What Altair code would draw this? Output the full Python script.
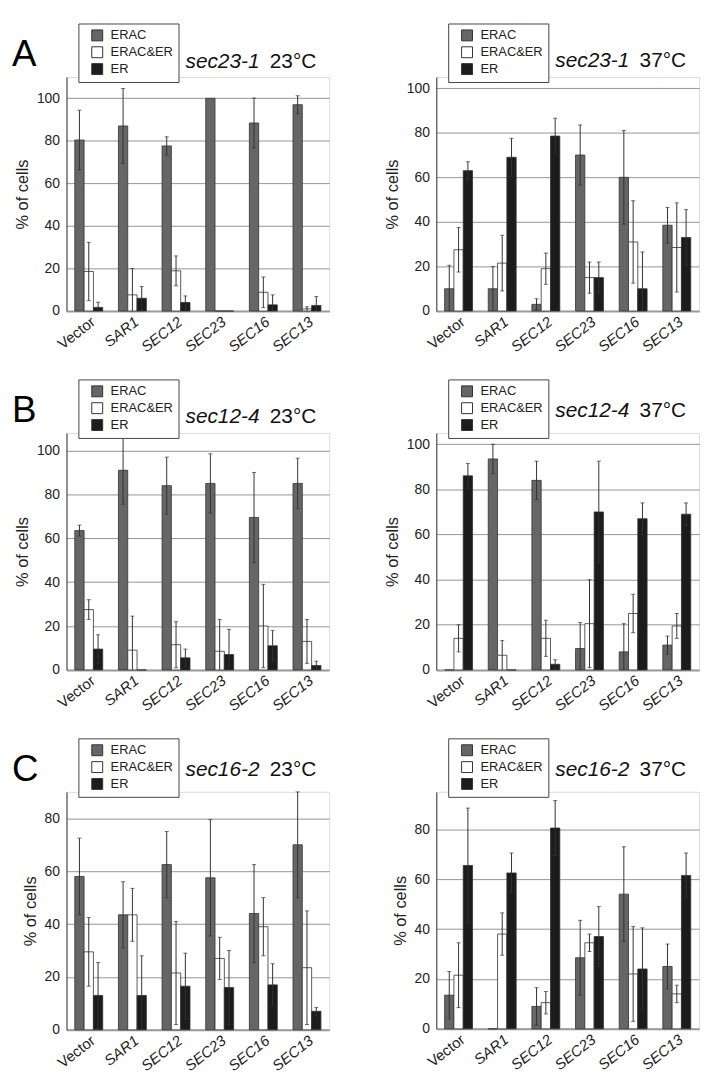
import altair as alt
import pandas as pd

genes = ["Vector", "SAR1", "SEC12", "SEC23", "SEC16", "SEC13"]
classes = ["ERAC", "ERAC&ER", "ER"]
class_colors = ["#666666", "#ffffff", "#1c1c1c"]

# A: sec23-1 23°C
a23_erac = [80.4, 87, 77.6, 100, 88.4, 97]
a23_erac_sd = [14, 17.6, 4.3, 0, 11.7, 4.2]
a23_both = [18.6, 7.6, 18.9, 0, 8.8, 1]
a23_both_sd = [13.7, 12.4, 7, 0, 7.2, 1]
a23_er = [1.7, 6, 4, 0, 2.9, 2.6]
a23_er_sd = [2.4, 5.5, 3.1, 0, 4.7, 4.2]
# A: sec23-1 37°C
a37_erac = [10, 10, 3, 70, 60, 38.5]
a37_erac_sd = [10.5, 10, 2.5, 13.5, 21, 8]
a37_both = [27.5, 21.5, 19, 15, 31, 28.5]
a37_both_sd = [10, 12.5, 7, 7, 18.5, 20]
a37_er = [63, 69, 78.5, 15, 10, 33]
a37_er_sd = [4, 8.5, 8, 7, 16.5, 12.5]
# B: sec12-4 23°C
b23_erac = [63.5, 91, 84, 85, 69.5, 85]
b23_erac_sd = [2.5, 15.5, 13, 13.5, 20.5, 11.5]
b23_both = [27.5, 9, 11.5, 8.5, 20, 13]
b23_both_sd = [4.5, 15.5, 10.5, 14.5, 19, 10]
b23_er = [9.5, 0, 5.5, 7, 11, 2]
b23_er_sd = [6.5, 0, 4, 11.5, 7, 2]
# B: sec12-4 37°C
b37_erac = [0, 93.5, 84, 9.5, 8, 11]
b37_erac_sd = [0, 6.5, 8.5, 11.5, 12.5, 4]
b37_both = [14, 6.5, 14, 20.5, 25, 19.5]
b37_both_sd = [6, 6.5, 8, 19.5, 8.5, 5.5]
b37_er = [86, 0, 2.5, 70, 67, 69]
b37_er_sd = [5.5, 0, 2, 22.5, 7, 5]
# C: sec16-2 23°C
c23_erac = [58, 43.5, 62.5, 57.5, 44, 70]
c23_erac_sd = [14.5, 12.5, 12.5, 22, 18.5, 20]
c23_both = [29.5, 43.5, 21.5, 27, 39, 23.5]
c23_both_sd = [13, 10, 19.5, 8, 11, 21.5]
c23_er = [13, 13, 16.5, 16, 17, 7]
c23_er_sd = [12.5, 15, 12.5, 14, 8, 1.5]
# C: sec16-2 37°C
c37_erac = [13.5, 0, 9, 28.5, 54, 25]
c37_erac_sd = [9.5, 0, 7.5, 15, 19, 9]
c37_both = [21.5, 38, 10.5, 34.5, 22, 14]
c37_both_sd = [13, 8.5, 4.5, 3.5, 19, 3.5]
c37_er = [65.5, 62.5, 80.5, 37, 24, 61.5]
c37_er_sd = [23, 8, 11, 12, 16.5, 9]

panels = [
    dict(letter="A", strain="sec23-1", temp="23°C", ymax=110, h=236, tdy=-9,
         data=[(a23_erac, a23_erac_sd), (a23_both, a23_both_sd), (a23_er, a23_er_sd)]),
    dict(letter="", strain="sec23-1", temp="37°C", ymax=105, h=236, tdy=-10,
         data=[(a37_erac, a37_erac_sd), (a37_both, a37_both_sd), (a37_er, a37_er_sd)]),
    dict(letter="B", strain="sec12-4", temp="23°C", ymax=108, h=239, tdy=-10,
         data=[(b23_erac, b23_erac_sd), (b23_both, b23_both_sd), (b23_er, b23_er_sd)]),
    dict(letter="", strain="sec12-4", temp="37°C", ymax=105, h=239, tdy=-16,
         data=[(b37_erac, b37_erac_sd), (b37_both, b37_both_sd), (b37_er, b37_er_sd)]),
    dict(letter="C", strain="sec16-2", temp="23°C", ymax=90, h=240, tdy=-16,
         data=[(c23_erac, c23_erac_sd), (c23_both, c23_both_sd), (c23_er, c23_er_sd)]),
    dict(letter="", strain="sec16-2", temp="37°C", ymax=95, h=239, tdy=-16,
         data=[(c37_erac, c37_erac_sd), (c37_both, c37_both_sd), (c37_er, c37_er_sd)]),
]

FONT = "Liberation Sans"


def make_panel(p):
    rows = []
    for cls, (means, sds) in zip(classes, p["data"]):
        for g, m, s in zip(genes, means, sds):
            rows.append(dict(gene=g, cls=cls, mean=m, err=s,
                             lo=max(0.0, m - s), hi=m + s))
    df = pd.DataFrame(rows)
    ymax = p["ymax"]
    yscale = alt.Scale(domain=[0, ymax], nice=False, zero=True)

    base = alt.Chart(df).encode(
        x=alt.X("gene:N", sort=genes,
                scale=alt.Scale(paddingInner=0.36, paddingOuter=0.19),
                axis=alt.Axis(title=None, labelAngle=-38, labelFontSize=15,
                              labelFont=FONT, labelColor="#222", ticks=False,
                              domainColor="#999", domainWidth=2, labelPadding=3,
                              labelFontStyle={"condition": {"test": "datum.value != 'Vector'",
                                                            "value": "italic"},
                                              "value": "normal"})),
        xOffset=alt.XOffset("cls:N", sort=classes,
                            scale=alt.Scale(paddingInner=0, paddingOuter=0)),
    )

    bars = base.mark_bar(stroke="#333", strokeWidth=0.8).encode(
        y=alt.Y("mean:Q", scale=yscale,
                axis=alt.Axis(values=list(range(0, ymax + 1, 20)), title="% of cells",
                              titleFont=FONT, titleFontSize=16.5, titleFontWeight="normal",
                              titleColor="#222", titlePadding=6,
                              labelFont=FONT, labelFontSize=14, labelColor="#222",
                              labelPadding=7, ticks=False, domainColor="#333",
                              domainWidth=1, grid=True, gridColor="#959595",
                              gridWidth=1)),
        fill=alt.Fill("cls:N", sort=classes,
                      scale=alt.Scale(domain=classes, range=class_colors),
                      legend=alt.Legend(orient="none", legendX=12, legendY=-54,
                                        title=None, symbolType="square",
                                        symbolSize=121, symbolStrokeColor="#333",
                                        symbolStrokeWidth=1, labelFont=FONT,
                                        labelFontSize=13, labelColor="#222",
                                        rowPadding=2, padding=5.5,
                                        symbolOffset=7, labelOffset=7,
                                        strokeColor="#444", fillColor="white")),
    )

    err = base.transform_filter("datum.err > 0")
    rules = err.mark_rule(color="#333", strokeWidth=1).encode(
        y=alt.Y("lo:Q", scale=yscale), y2="hi:Q")
    cap_hi = err.mark_tick(color="#333", size=4, thickness=1).encode(
        y=alt.Y("hi:Q", scale=yscale))
    cap_lo = err.transform_filter("datum.mean - datum.err > 0").mark_tick(
        color="#333", size=4, thickness=1).encode(y=alt.Y("lo:Q", scale=yscale))

    strain = alt.Chart(pd.DataFrame({"t": [p["strain"]]})).mark_text(
        align="left", baseline="alphabetic", font=FONT, fontSize=21,
        fontStyle="italic", color="#111").encode(
        x=alt.value(120), y=alt.value(p["tdy"]), text="t:N")
    temp = alt.Chart(pd.DataFrame({"t": [p["temp"]]})).mark_text(
        align="left", baseline="alphabetic", font=FONT, fontSize=21,
        color="#111").encode(
        x=alt.value(205), y=alt.value(p["tdy"]), text="t:N")

    layers = [bars, rules, cap_hi, cap_lo, strain, temp]
    if p["letter"]:
        letter = alt.Chart(pd.DataFrame({"t": [p["letter"]]})).mark_text(
            align="left", baseline="alphabetic", font=FONT, fontSize=37,
            color="#000").encode(x=alt.value(-55), y=alt.value(-11), text="t:N")
        layers.append(letter)
    return alt.layer(*layers).properties(width=265, height=p["h"])


charts = [make_panel(p) for p in panels]

chart = alt.concat(
    *charts, columns=2, spacing={"row": 123, "column": 108}, bounds="flush"
).resolve_scale(
    fill="independent", x="independent", y="independent"
).resolve_legend(
    fill="independent"
).properties(
    padding={"left": 3, "top": 10, "right": 4, "bottom": 4},
    background="white",
).configure_view(stroke=None).configure(font=FONT)

chart.save("out.html", embed_options={"renderer": "svg", "actions": False})
